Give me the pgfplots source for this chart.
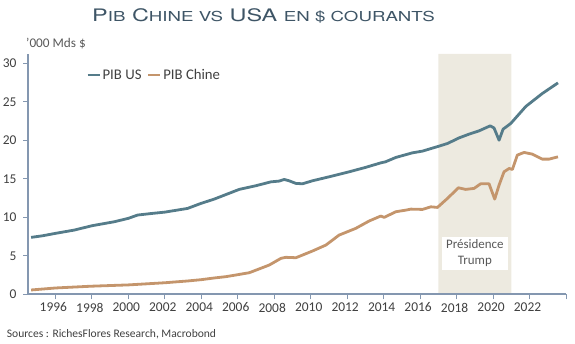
\documentclass[border=0pt]{standalone}
\usepackage{pgfplots}
\pgfplotsset{compat=1.18}
\usepackage{fontspec}
\setmainfont{Carlito}
\newfontfamily\titlefont[FakeStretch=1.36]{TeX Gyre Heros}
\definecolor{usc}{HTML}{557C8A}
\definecolor{cnc}{HTML}{C4956C}
\definecolor{shade}{HTML}{EDEAE0}
\definecolor{axc}{HTML}{8497B0}
\definecolor{titc}{HTML}{3E5566}
\definecolor{txt}{HTML}{404040}
\definecolor{gr}{HTML}{595959}
\begin{document}
\begin{tikzpicture}[x=1bp,y=1bp]
\useasboundingbox (0,0) rectangle (575,343);
\node[anchor=base west, inner sep=0, text=titc] at (92,321.5)
  {\titlefont\fontsize{17.3}{18}\selectfont P{\fontsize{13.8}{14}\selectfont IB} C{\fontsize{13.8}{14}\selectfont HINE VS} USA {\fontsize{13.8}{14}\selectfont EN \$ COURANTS}};
\node[anchor=base west, inner sep=0, text=gr] at (26,295.5) {\fontsize{13.3}{15}\selectfont '000 Mds \$};
\node[anchor=base west, inner sep=0, text=txt] at (6.7,6) {\fontsize{11.6}{13}\selectfont Sources : RichesFlores Research, Macrobond};
\begin{axis}[
  at={(28bp,48.7bp)}, anchor=south west,
  scale only axis, width=538bp, height=240.3bp,
  xmin=1994.5, xmax=2024, ymin=0, ymax=31.2,
  axis x line*=bottom, axis y line*=left,
  axis on top,
  x axis line style={-, color=axc, line width=1.8bp},
  y axis line style={-, color=axc, line width=1.4bp},
  tick style={color=axc, line width=1bp},
  tick align=outside,
  major tick length=5bp,
  xtick={1996,1998,...,2024},
  xticklabels={1996,1998,2000,2002,2004,2006,2008,2010,2012,2014,2016,2018,2020,2022,{}},
  ytick={0,5,...,30},
  /pgf/number format/assume math mode=true,
  ticklabel style={font=\fontsize{13.5}{15}\selectfont, text=txt},
  xticklabel style={xshift=-2bp},
  yticklabel style={xshift=-3bp},
  legend style={draw=none, fill=none, at={(0.108,0.9126)}, anchor=west,
    legend columns=2, font=\fontsize{14.8}{16}\selectfont, text=txt,
    /tikz/every even column/.append style={column sep=4bp},
    inner sep=0pt, nodes={inner sep=1.5bp}},
  legend image code/.code={\draw[#1] (0bp,0bp) -- (12bp,0bp);},
]
\addplot[fill=shade, draw=none, forget plot] coordinates {(2017,0) (2017,31.2) (2021,31.2) (2021,0)} \closedcycle;
\addplot[usc, line width=2.8bp, line join=round] coordinates {
(1994.67,7.39) (1995.3,7.6) (1996.0,7.91) (1997.04,8.34) (1998.0,8.9) (1999.23,9.42) (2000.0,9.86) (2000.51,10.29) (2001.3,10.5) (2002.0,10.67) (2003.25,11.15) (2003.98,11.8) (2004.71,12.36) (2006.08,13.62) (2007.0,14.1) (2007.82,14.6) (2008.27,14.7) (2008.55,14.91) (2008.8,14.75) (2009.19,14.4) (2009.55,14.35) (2010.1,14.74) (2011.0,15.25) (2012.1,15.9) (2013.0,16.47) (2013.85,17.07) (2014.1,17.2) (2014.67,17.77) (2015.58,18.37) (2016.13,18.59) (2017.04,19.24) (2017.5,19.58) (2018.14,20.31) (2018.68,20.79) (2019.23,21.22) (2019.84,21.87) (2020.05,21.61) (2020.33,20.01) (2020.55,21.44) (2020.97,22.18) (2021.8,24.4) (2022.7,26.07) (2023.56,27.45)
};
\addlegendentry{PIB US}
\addplot[cnc, line width=2.8bp, line join=round] coordinates {
(1994.67,0.56) (1996.0,0.82) (1997.95,1.05) (2000.0,1.22) (2002.0,1.5) (2003.25,1.73) (2004.0,1.9) (2004.71,2.12) (2005.35,2.29) (2006.63,2.8) (2007.73,3.8) (2008.37,4.67) (2008.64,4.8) (2009.19,4.75) (2010.1,5.62) (2010.83,6.39) (2011.56,7.69) (2012.47,8.56) (2013.2,9.51) (2013.84,10.16) (2014.03,9.99) (2014.67,10.72) (2015.22,10.93) (2015.5,11.06) (2016.13,11.02) (2016.59,11.36) (2016.95,11.28) (2017.5,12.45) (2018.1,13.83) (2018.5,13.62) (2018.96,13.75) (2019.32,14.35) (2019.78,14.35) (2020.09,12.36) (2020.33,14.18) (2020.6,15.9) (2020.88,16.34) (2021.06,16.21) (2021.33,18.07) (2021.7,18.42) (2022.15,18.2) (2022.7,17.55) (2023.07,17.55) (2023.56,17.85)
};
\addlegendentry{PIB Chine}
\node[fill=white, text=gr, align=center, font=\fontsize{13}{16}\selectfont, inner xsep=4bp, inner ysep=3bp] at (axis cs:2019,5.35) {Présidence\\Trump};
\end{axis}
\end{tikzpicture}
\end{document}
